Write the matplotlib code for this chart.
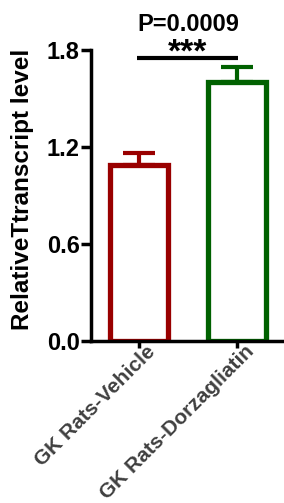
import numpy as np
import matplotlib
matplotlib.use("Agg")
from matplotlib import pyplot as plt
from matplotlib import transforms

# dati
groups = ["GK Rats-Vehicle", "GK Rats-Dorzagliatin"]
means = [1.09, 1.605]
sem = [0.075, 0.09]
colors = ["#990000", "#006100"]
p_text = "P=0.0009"
stars = "***"

plt.rcParams["font.family"] = ["Liberation Sans", "DejaVu Sans"]
plt.rcParams["font.weight"] = "bold"

fig = plt.figure(figsize=(2.84, 5.03), dpi=100)
ax = fig.add_axes([0.320, 0.322, 0.68, 0.5785])

x = np.arange(len(groups))
for i in range(len(groups)):
    ax.bar(x[i], means[i], width=0.59, facecolor="white", edgecolor=colors[i],
           linewidth=3.8, zorder=2)
    ax.errorbar(x[i], means[i], yerr=[[0], [sem[i]]], fmt="none", ecolor=colors[i],
                elinewidth=3, capsize=11.5, capthick=3, zorder=1)

ax.set_xlim(-0.49, 1.48)
ax.set_ylim(0, 1.8)
ax.set_yticks([0.0, 0.6, 1.2, 1.8])
ax.set_yticklabels(["0.0", "0.6", "1.2", "1.8"], fontsize=17, fontweight="bold")
ax.set_xticks(x)
ax.set_xticklabels([])
# etichette x ruotate, disegnate come testo (spostate un po' a destra)
off = transforms.ScaledTranslation(0.07, -0.01, fig.dpi_scale_trans)
for xi, g in zip(x, groups):
    ax.text(xi, 0, g, transform=ax.get_xaxis_transform() + off, rotation=45,
            ha="right", va="top", rotation_mode="anchor", fontsize=15,
            fontweight="bold", color="#404040", clip_on=False)
ax.tick_params(axis="y", length=7, width=2.5, pad=1)
ax.tick_params(axis="x", length=5, width=2.5, pad=2)

for s in ["top", "right"]:
    ax.spines[s].set_visible(False)
for s in ["left", "bottom"]:
    ax.spines[s].set_linewidth(2.5)

ax.set_ylabel("RelativeTtranscript level", fontsize=17.5, fontweight="bold")
ax.yaxis.set_label_coords(-0.295, 0.522)

# barra di significativita
ax.plot([-0.02, 1.01], [1.75, 1.75], color="black", lw=3, clip_on=False,
        solid_capstyle="butt")
ax.text(0.5, 1.73, stars, ha="center", va="baseline", fontsize=24, fontweight="bold",
        clip_on=False)
ax.text(0.5, 1.92, p_text, ha="center", va="baseline", fontsize=17, fontweight="bold",
        clip_on=False)

fig.savefig("out.png", dpi=100)
